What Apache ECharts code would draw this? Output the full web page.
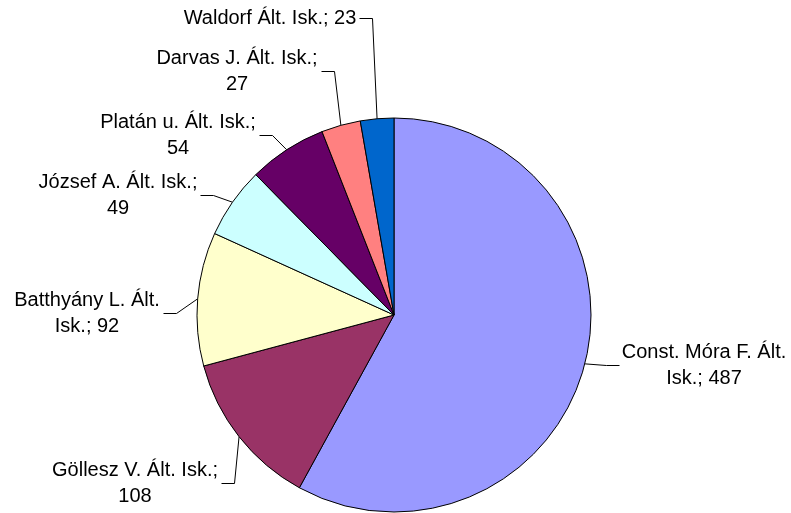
<!DOCTYPE html>
<html>
<head>
<meta charset="utf-8">
<script src="https://cdn.jsdelivr.net/npm/echarts@6/dist/echarts.min.js"></script>
<style>
  html, body { margin: 0; padding: 0; background: #fff; }
  #chart { width: 791px; height: 513px; }
</style>
</head>
<body>
<div id="chart"></div>
<script>
// iskolák (óramutató járásával, felülről)
const schools = ['Const. Móra F. Ált. Isk.', 'Göllesz V. Ált. Isk.', 'Batthyány L. Ált. Isk.',
  'József A. Ált. Isk.', 'Platán u. Ált. Isk.', 'Darvas J. Ált. Isk.', 'Waldorf Ált. Isk.']
const counts = [487, 108, 92, 49, 54, 27, 23]
const colors = ['#9999ff', '#993366', '#ffffcc', '#ccffff', '#660066', '#ff8080', '#0066cc']

// címke elhelyezés (középpont) és sortörés (első sor szavai, 0 = nincs törés)
const labelPos = [[704, 365], [135, 483], [87, 313], [118, 195], [178, 135], [237, 71], [270, 18]]
const firstLineWords = [4, 4, 3, 4, 4, 4, 0]

const CX = 394, CY = 315, R = 197
const total = counts.reduce((a, b) => a + b, 0)

// szelet középszögéhez tartozó pont a kör szélén
function anchorOf(i) {
  let before = 0
  for (let k = 0; k < i; k++) before += counts[k]
  const theta = (before + counts[i] / 2) / total * Math.PI * 2
  return [CX + R * Math.sin(theta), CY - R * Math.cos(theta)]
}

const chart = echarts.init(document.getElementById('chart'))
chart.setOption({
  animation: false,
  series: [{
    type: 'pie',
    center: [CX, CY],
    radius: [0, R],
    startAngle: 90,
    clockwise: true,
    avoidLabelOverlap: false,
    data: schools.map((name, i) => ({ name: name, value: counts[i], itemStyle: { color: colors[i] } })),
    itemStyle: { borderColor: '#000', borderWidth: 1 },
    emphasis: { disabled: true },
    label: {
      show: true,
      position: 'outside',
      color: '#000',
      fontFamily: 'Liberation Sans, Arial, sans-serif',
      fontSize: 20,
      lineHeight: 26,
      align: 'center',
      formatter: p => {
        const words = (p.name + '; ' + p.value).split(' ')
        const n = firstLineWords[p.dataIndex]
        if (!n) return words.join(' ')
        return words.slice(0, n).join(' ') + '\n' + words.slice(n).join(' ')
      }
    },
    labelLine: { show: true, lineStyle: { color: '#000', width: 1 } },
    labelLayout: params => {
      const i = params.dataIndex
      const [x, y] = labelPos[i]
      const w = params.labelRect.width
      const anchor = anchorOf(i)
      const right = x > CX
      const ly = Math.round(y) + 0.5 // éles vonal
      const edge = Math.round(right ? x - w / 2 - 3 : x + w / 2 + 3) + 0.5
      const elbow = right ? edge - 13 : edge + 13
      return {
        x: x,
        y: y,
        align: 'center',
        verticalAlign: 'middle',
        labelLinePoints: [anchor, [elbow, ly], [edge, ly]]
      }
    }
  }]
})
</script>
</body>
</html>
